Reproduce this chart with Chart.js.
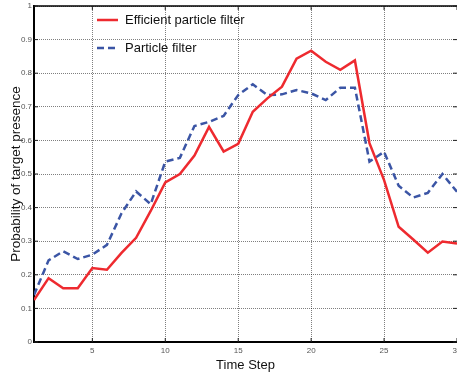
<!DOCTYPE html>
<html>
<head>
<meta charset="utf-8">
<script src="https://cdn.jsdelivr.net/npm/chart.js@4/dist/chart.umd.min.js"></script>
<style>
  html, body { margin: 0; padding: 0; background: #fff; }
  #wrap { width: 457px; height: 377px; position: relative; }
</style>
</head>
<body>
<div id="wrap"><canvas id="presenceChart"></canvas></div>
<script>
// Data
const timeSteps = [1, 2, 3, 4, 5, 6, 7, 8, 9, 10, 11, 12, 13, 14, 15,
                   16, 17, 18, 19, 20, 21, 22, 23, 24, 25, 26, 27, 28, 29, 30];
const efficientPF = [0.125, 0.19, 0.16, 0.16, 0.22, 0.215, 0.265, 0.31, 0.39, 0.475,
                     0.50, 0.555, 0.64, 0.567, 0.59, 0.685, 0.725, 0.76, 0.843, 0.867,
                     0.834, 0.81, 0.838, 0.592, 0.482, 0.343, 0.305, 0.266, 0.299, 0.293];
const particlePF = [0.14, 0.243, 0.27, 0.247, 0.26, 0.289, 0.383, 0.448, 0.41, 0.537,
                    0.548, 0.643, 0.655, 0.673, 0.735, 0.767, 0.735, 0.737, 0.75, 0.74,
                    0.72, 0.757, 0.757, 0.537, 0.566, 0.465, 0.43, 0.444, 0.5, 0.447];
const xTickValues = [5, 10, 15, 20, 25, 30];
const yTickValues = [0, 0.1, 0.2, 0.3, 0.4, 0.5, 0.6, 0.7, 0.8, 0.9, 1];

const colors = {
    red: '#ee2a2f',
    blue: '#3b55a5',
    grid: 'rgba(0,0,0,0.5)',
    tick: '#555'
};
const fontFamily = '"Liberation Sans", Arial, sans-serif';

// frame, inward tick marks and legend drawn inside the plot box
const framePlugin = {
    id: 'frame',
    afterDatasetsDraw(chart) {
        const { ctx, chartArea: a, scales } = chart;
        ctx.save();
        ctx.strokeStyle = '#000';
        ctx.lineWidth = 1.5;
        ctx.beginPath();
        ctx.moveTo(a.left, a.top);
        ctx.lineTo(a.right, a.top);
        ctx.stroke();

        ctx.lineWidth = 1;
        ctx.strokeStyle = '#222';
        scales.y.ticks.forEach(t => {
            const py = scales.y.getPixelForValue(t.value);
            ctx.beginPath();
            ctx.moveTo(a.left, py); ctx.lineTo(a.left + 4, py);
            ctx.moveTo(a.right, py); ctx.lineTo(a.right - 4, py);
            ctx.stroke();
        });
        scales.x.ticks.forEach(t => {
            const px = scales.x.getPixelForValue(t.value);
            ctx.beginPath();
            ctx.moveTo(px, a.bottom); ctx.lineTo(px, a.bottom - 4);
            ctx.moveTo(px, a.top); ctx.lineTo(px, a.top + 4);
            ctx.stroke();
        });

        // legend
        const x0 = a.left + 63;
        let y0 = a.top + 14;
        ctx.font = '13px ' + fontFamily;
        ctx.textBaseline = 'middle';
        ctx.fillStyle = '#111';
        chart.data.datasets.forEach(ds => {
            ctx.beginPath();
            ctx.lineWidth = ds.borderWidth;
            ctx.strokeStyle = ds.borderColor;
            ctx.setLineDash(ds.borderDash || []);
            ctx.moveTo(x0, y0);
            ctx.lineTo(x0 + 21, y0);
            ctx.stroke();
            ctx.setLineDash([]);
            ctx.fillText(ds.label, x0 + 28, y0);
            y0 += 28;
        });
        ctx.restore();
    }
};

const ctx = document.getElementById('presenceChart').getContext('2d');
new Chart(ctx, {
    type: 'line',
    data: {
        labels: timeSteps,
        datasets: [{
            label: 'Efficient particle filter',
            data: timeSteps.map((t, i) => ({ x: t, y: efficientPF[i] })),
            borderColor: colors.red,
            borderWidth: 2.5,
            pointRadius: 0,
            tension: 0,
            fill: false
        }, {
            label: 'Particle filter',
            data: timeSteps.map((t, i) => ({ x: t, y: particlePF[i] })),
            borderColor: colors.blue,
            borderWidth: 2.5,
            borderDash: [7, 4],
            pointRadius: 0,
            tension: 0,
            fill: false
        }]
    },
    options: {
        responsive: true,
        maintainAspectRatio: false,
        animation: false,
        layout: { padding: { top: 6, right: 0, left: 0, bottom: 0 } },
        plugins: { legend: { display: false }, tooltip: { enabled: false } },
        scales: {
            x: {
                type: 'linear',
                min: 1,
                max: 30,
                afterBuildTicks: scale => {
                    scale.ticks = xTickValues.map(v => ({ value: v }));
                },
                afterFit: scale => {
                    scale.paddingLeft = 0;
                    scale.paddingRight = 0;
                    scale.height = 35;
                },
                grid: { color: colors.grid, lineWidth: 1, drawTicks: false },
                border: { color: '#000', width: 2, dash: [1, 1] },
                ticks: {
                    padding: 4,
                    color: colors.tick,
                    font: { family: fontFamily, size: 8 },
                    maxRotation: 0
                },
                title: {
                    display: true,
                    text: 'Time Step',
                    color: '#111',
                    font: { family: fontFamily, size: 13 },
                    padding: { top: 0, bottom: 4 }
                }
            },
            y: {
                min: 0,
                max: 1,
                afterBuildTicks: scale => {
                    scale.ticks = yTickValues.map(v => ({ value: v }));
                },
                afterFit: scale => {
                    scale.paddingTop = 0;
                    scale.paddingBottom = 0;
                    scale.width = 34;
                },
                grid: { color: colors.grid, lineWidth: 1, drawTicks: false },
                border: { color: '#000', width: 2, dash: [1, 1] },
                ticks: {
                    padding: 2,
                    color: colors.tick,
                    font: { family: fontFamily, size: 8 },
                    callback: v => String(Math.round(v * 10) / 10)
                },
                title: {
                    display: true,
                    text: 'Probability of target presence',
                    color: '#111',
                    font: { family: fontFamily, size: 13.5 },
                    padding: { top: 8, bottom: 0 }
                }
            }
        }
    },
    plugins: [framePlugin]
});
</script>
</body>
</html>
